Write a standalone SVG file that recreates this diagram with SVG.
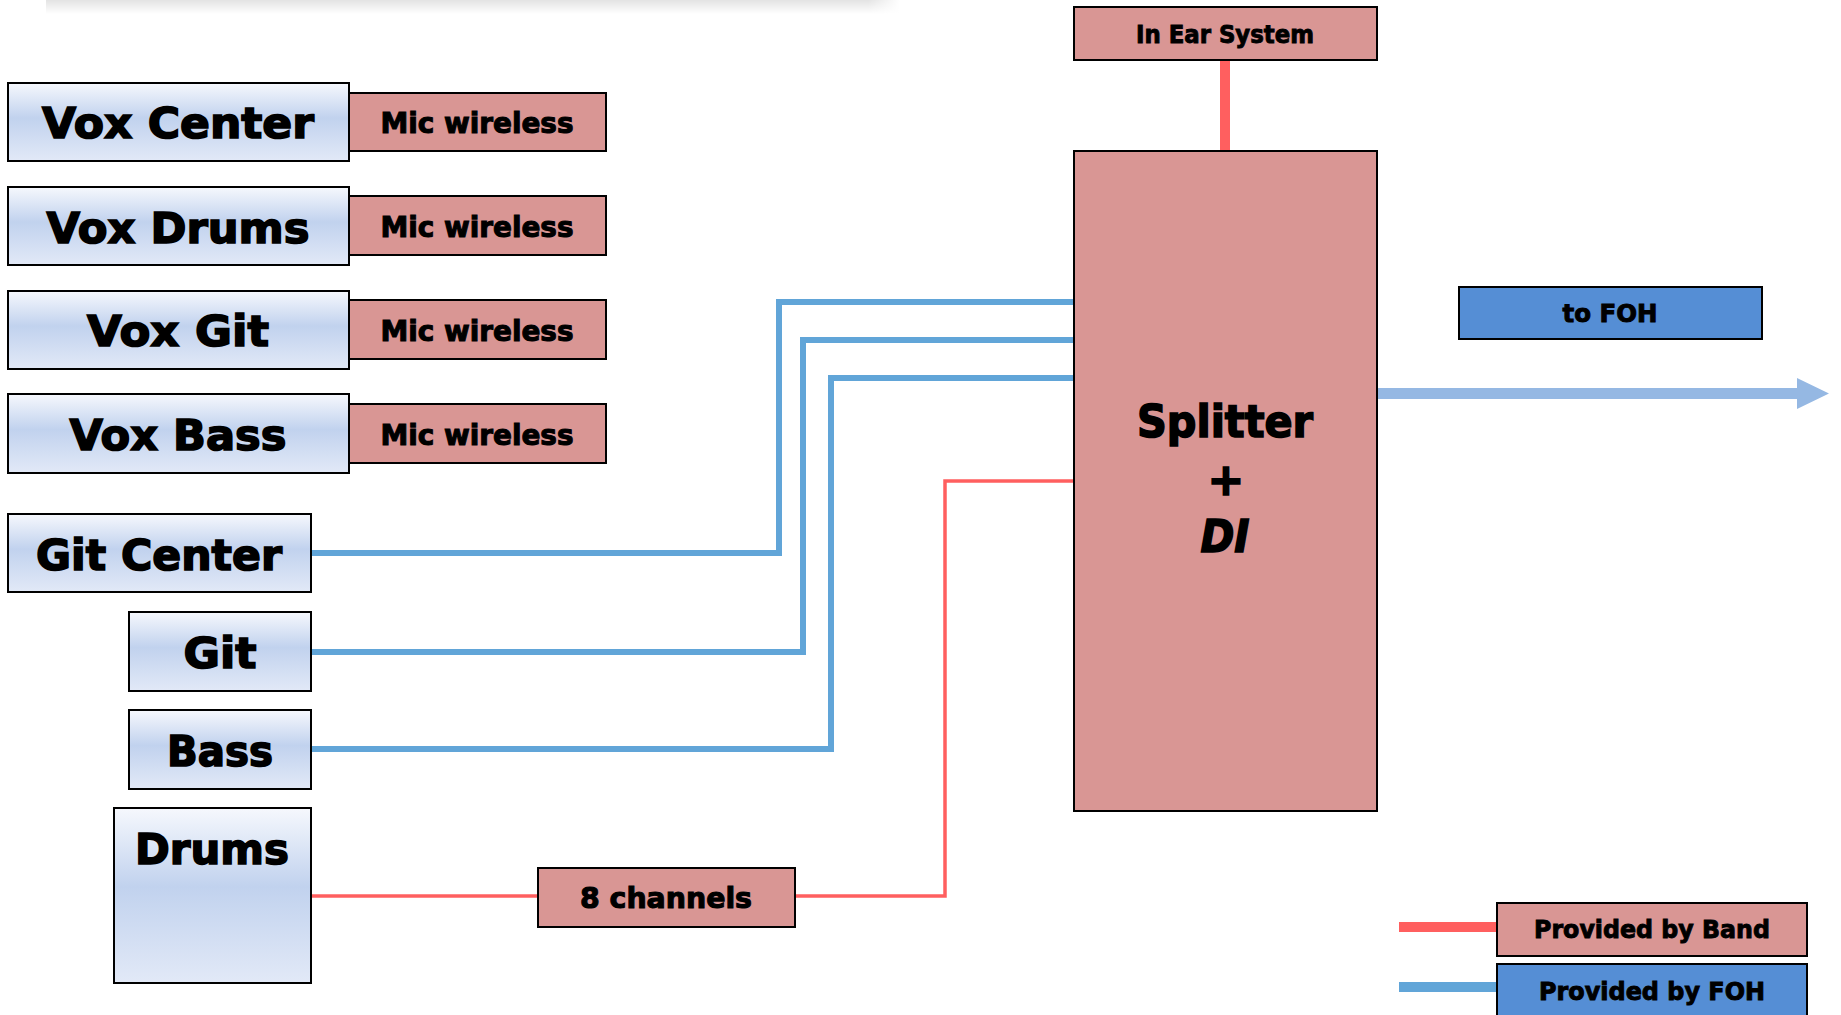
<svg xmlns="http://www.w3.org/2000/svg" width="1841" height="1015" viewBox="0 0 1841 1015">
<style>
.src{fill:url(#gSrc);stroke:#000;stroke-width:2}
.pink{fill:#D99694;stroke:#000;stroke-width:2}
.blue{fill:#558ED5;stroke:#000;stroke-width:2}
text{font-family:"DejaVu Sans","Liberation Sans",sans-serif;font-weight:bold;fill:#000;stroke:#000;text-anchor:middle}
.big{font-size:42.5px;stroke-width:1.6}
.mid{font-size:29px;stroke-width:1.1}
.sm{font-size:24px;stroke-width:0.9}
.xl{font-size:44px;stroke-width:1.6}
.bl{fill:none;stroke:#61A5D8;stroke-width:6}
.rd{fill:none;stroke:#FF5F5F;stroke-width:3.5}
</style>
<defs>
<linearGradient id="gSrc" x1="0" y1="0" x2="0" y2="1">
<stop offset="0" stop-color="#F6F8FD"/>
<stop offset="0.45" stop-color="#C1D2EE"/>
<stop offset="1" stop-color="#E2E9F7"/>
</linearGradient>
<linearGradient id="gBan" x1="0" y1="0" x2="0" y2="1">
<stop offset="0" stop-color="#E3E3E3"/>
<stop offset="1" stop-color="#FFFFFF"/>
</linearGradient>
<linearGradient id="gBanR" x1="0" y1="0" x2="1" y2="0">
<stop offset="0" stop-color="#FFFFFF" stop-opacity="0"/>
<stop offset="1" stop-color="#FFFFFF" stop-opacity="1"/>
</linearGradient>
</defs>
<rect x="0" y="0" width="1841" height="1015" fill="#FFFFFF"/>
<rect x="46" y="0" width="854" height="14" fill="url(#gBan)"/>
<rect x="868" y="0" width="32" height="14" fill="url(#gBanR)"/>

<g id="connectors">
<line x1="1225" y1="60" x2="1225" y2="151" stroke="#FF5F5F" stroke-width="10"/>
<polyline class="bl" points="311,553 779,553 779,302 1074,302"/>
<polyline class="bl" points="311,652 803,652 803,340 1074,340"/>
<polyline class="bl" points="311,749 831,749 831,378 1074,378"/>
<line class="rd" x1="311" y1="896" x2="538" y2="896"/>
<polyline class="rd" points="795,896 945,896 945,481 1074,481"/>
<path d="M1377,388 L1797,388 L1797,378 L1829,393.5 L1797,409 L1797,399 L1377,399 Z" fill="#95B8E3"/>
<line x1="1399" y1="927" x2="1497" y2="927" stroke="#FF5F5F" stroke-width="10"/>
<line x1="1399" y1="987" x2="1497" y2="987" stroke="#61A5D8" stroke-width="10"/>
</g>

<g id="vox-center"><rect class="src" x="8" y="83" width="341" height="78"/><text class="big" x="178" y="138" textLength="272" lengthAdjust="spacingAndGlyphs">Vox Center</text></g>
<g id="mic-1"><rect class="pink" x="349" y="93" width="257" height="58"/><text class="mid" x="477" y="133" textLength="193" lengthAdjust="spacingAndGlyphs">Mic wireless</text></g>
<g id="vox-drums"><rect class="src" x="8" y="187" width="341" height="78"/><text class="big" x="178" y="243" textLength="263" lengthAdjust="spacingAndGlyphs">Vox Drums</text></g>
<g id="mic-2"><rect class="pink" x="349" y="196" width="257" height="59"/><text class="mid" x="477" y="237" textLength="193" lengthAdjust="spacingAndGlyphs">Mic wireless</text></g>
<g id="vox-git"><rect class="src" x="8" y="291" width="341" height="78"/><text class="big" x="178" y="346" textLength="182" lengthAdjust="spacingAndGlyphs">Vox Git</text></g>
<g id="mic-3"><rect class="pink" x="349" y="300" width="257" height="59"/><text class="mid" x="477" y="341" textLength="193" lengthAdjust="spacingAndGlyphs">Mic wireless</text></g>
<g id="vox-bass"><rect class="src" x="8" y="394" width="341" height="79"/><text class="big" x="178" y="450" textLength="217" lengthAdjust="spacingAndGlyphs">Vox Bass</text></g>
<g id="mic-4"><rect class="pink" x="349" y="404" width="257" height="59"/><text class="mid" x="477" y="445" textLength="193" lengthAdjust="spacingAndGlyphs">Mic wireless</text></g>

<g id="git-center"><rect class="src" x="8" y="514" width="303" height="78"/><text class="big" x="159" y="570" textLength="246" lengthAdjust="spacingAndGlyphs">Git Center</text></g>
<g id="git"><rect class="src" x="129" y="612" width="182" height="79"/><text class="big" x="220" y="668" textLength="73" lengthAdjust="spacingAndGlyphs">Git</text></g>
<g id="bass"><rect class="src" x="129" y="710" width="182" height="79"/><text class="big" x="220" y="766" textLength="106" lengthAdjust="spacingAndGlyphs">Bass</text></g>
<g id="drums"><rect class="src" x="114" y="808" width="197" height="175"/><text class="big" x="212" y="864" textLength="154" lengthAdjust="spacingAndGlyphs">Drums</text></g>
<g id="eight-channels"><rect class="pink" x="538" y="868" width="257" height="59"/><text class="mid" x="666" y="908" textLength="172" lengthAdjust="spacingAndGlyphs">8 channels</text></g>

<g id="in-ear"><rect class="pink" x="1074" y="7" width="303" height="53"/><text class="sm" x="1225" y="43" textLength="178" lengthAdjust="spacingAndGlyphs">In Ear System</text></g>
<g id="splitter"><rect class="pink" x="1074" y="151" width="303" height="660"/>
<text class="xl" x="1225" y="437" textLength="176" lengthAdjust="spacingAndGlyphs">Splitter</text>
<text class="xl" x="1226" y="495">+</text>
<text class="xl" style="font-style:italic" x="1225" y="552" textLength="49" lengthAdjust="spacingAndGlyphs">DI</text></g>
<g id="to-foh"><rect class="blue" x="1459" y="287" width="303" height="52"/><text class="sm" x="1610" y="322" textLength="95" lengthAdjust="spacingAndGlyphs">to FOH</text></g>

<g id="legend-band"><rect class="pink" x="1497" y="903" width="310" height="53"/><text class="sm" x="1652" y="938" textLength="236" lengthAdjust="spacingAndGlyphs">Provided by Band</text></g>
<g id="legend-foh"><rect class="blue" x="1497" y="964" width="310" height="60"/><text class="sm" x="1652" y="1000" textLength="226" lengthAdjust="spacingAndGlyphs">Provided by FOH</text></g>
</svg>
